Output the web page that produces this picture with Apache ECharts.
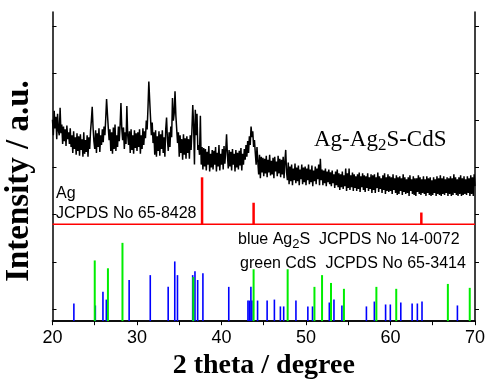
<!DOCTYPE html>
<html>
<head>
<meta charset="utf-8">
<script src="https://cdn.jsdelivr.net/npm/echarts@6/dist/echarts.min.js"></script>
<style>html,body{margin:0;padding:0;background:#fff}#c{width:488px;height:385px}</style>
</head>
<body>
<div id="c"></div>
<script>
// ---- DATA ----
const xMin = 20, xMax = 70;
const xTickLabels = [20, 30, 40, 50, 60, 70];
const yTickValues = [12, 60, 109, 157, 205, 253, 301];

// measured XRD pattern (intensity, a.u.), start 20°, step 0.1°
const xrdStart = 20, xrdStep = 0.1;
const xrdIntensity = [
  206,190,215,197,209,186,212,195,190,218,
  192,201,181,199,184,196,179,200,186,193,
  181,197,178,190,172,194,176,188,170,192,
  174,189,169,191,175,186,168,193,171,185,
  173,190,168,188,176,194,205,219,198,184,
  176,195,172,192,178,197,173,190,180,196,
  183,199,190,207,227,212,198,185,196,174,
  193,171,198,176,201,174,190,178,199,184,
  200,223,197,185,198,176,193,181,220,190,
  180,194,172,196,175,190,171,195,177,192,
  174,193,178,196,171,190,176,197,180,194,
  187,205,196,218,245,226,208,190,203,182,
  193,170,195,168,189,174,194,169,191,176,
  195,172,188,168,196,208,186,174,193,178,
  199,188,228,205,212,235,210,196,182,193,
  168,190,172,186,165,191,170,187,166,189,
  172,186,166,190,175,195,221,200,160,216,
  190,212,175,180,170,210,160,178,155,177,
  158,176,154,173,160,179,153,171,157,175,
  155,174,160,178,153,172,158,180,154,171,
  160,176,155,179,161,174,191,170,156,175,
  158,173,154,176,160,171,153,175,157,172,
  155,174,159,177,154,171,160,176,165,180,
  168,184,172,189,180,199,188,194,178,185,
  172,160,178,163,150,170,146,168,152,167,
  148,166,151,169,147,165,152,170,149,164,
  150,167,146,168,153,163,148,169,151,166,
  147,165,150,168,146,163,175,152,144,162,
  140,158,143,160,139,156,144,161,141,157,
  143,159,139,155,145,160,140,157,142,158,
  139,156,144,160,140,155,142,159,138,154,
  143,158,140,156,145,160,139,166,144,155,
  139,154,141,156,138,153,142,155,140,152,
  138,154,141,150,136,153,139,155,137,151,
  134,150,137,153,135,149,138,156,133,151,
  136,156,134,149,137,152,133,150,136,148,
  133,150,135,152,132,148,137,151,134,149,
  132,148,136,151,133,147,135,150,131,149,
  134,150,131,147,136,152,132,148,135,146,
  131,149,134,151,130,147,133,150,132,148,
  133,147,130,150,134,146,131,149,129,147,
  130,148,133,146,129,150,132,147,130,145,
  131,147,128,149,133,145,130,148,129,146,
  128,146,132,149,130,147,129,145,131,148,
  130,145,128,148,131,146,129,147,128,144,
  129,147,131,145,128,148,130,146,129,149,
  128,146,130,148,129,145,131,147,128,146,
  130,148,128,146,129,150,131,147,129,145,
  128,147,130,149,128,146,129,148,130,145,
  129,148,131,146,128,149,130,147,128,150,
  138
];

// Ag reference (JCPDS 65-8428), drawn with an offset
const agOffset = 99;
const agPos = [37.7, 43.8, 63.65];
const agHeight = [48, 22, 12];

// Ag2S reference (JCPDS 14-0072) - blue
const ag2sPos = [22.53,25.07,25.97,26.37,29.07,31.57,33.69,34.47,34.79,36.59,36.86,37.18,37.80,40.86,
  43.13,43.29,43.48,43.60,44.27,45.40,46.26,46.97,47.36,48.81,50.22,50.77,52.76,53.31,54.25,
  57.15,58.09,59.42,59.98,61.22,62.56,63.18,63.73,67.92];
const ag2sHeight = [18,16,30,22,42,47,35,61,47,47,51,42,49,35,
  21,21,35,21,21,21,22,15,15,21,15,15,19,22,16,
  15,20,17,17,19,18,18,20,16];

// CdS reference (JCPDS 65-3414) - green
const cdsPos = [25.0,26.56,28.28,36.66,43.8,47.83,51.0,51.9,52.96,54.49,58.33,60.68,66.79,69.38];
const cdsHeight = [62,54,80,45,53,53,35,47,39,33,35,33,38,34];

// ---- CHART ----
const chart = echarts.init(document.getElementById('c'), null, {renderer:'canvas'});
const xrdData = xrdIntensity.map((v, i) => [+(xrdStart + i * xrdStep).toFixed(2), v]);

function stickSeries(pos, h, base, color, width) {
  return {
    type: 'custom',
    silent: true,
    animation: false,
    data: pos.map((x, i) => [x, h[i]]),
    renderItem: function (params, api) {
      const p0 = api.coord([api.value(0), base]);
      const p1 = api.coord([api.value(0), base + api.value(1)]);
      return { type: 'line', shape: { x1: p0[0], y1: p0[1], x2: p1[0], y2: p1[1] },
               style: { stroke: color, lineWidth: width } };
    }
  };
}

const axisLineStyle = { color: '#000', width: 1.5 };
const sans = 'Liberation Sans, Arial, sans-serif';
const serif = 'Liberation Serif, Times New Roman, serif';

chart.setOption({
  animation: false,
  grid: { left: 52.5, right: 10, top: 12, bottom: 57 },
  xAxis: [
    { type: 'value', min: xMin, max: xMax, interval: 5, position: 'bottom',
      axisLine: { show: true, lineStyle: axisLineStyle },
      axisTick: { show: true, inside: false, length: 4, lineStyle: { color: '#000', width: 1 } },
      axisLabel: { color: '#000', fontSize: 18, fontFamily: sans, margin: 8,
        formatter: v => (xTickLabels.indexOf(v) >= 0 ? String(v) : '') },
      splitLine: { show: false },
      name: '2 theta / degree', nameLocation: 'middle', nameGap: 30,
      nameTextStyle: { color: '#000', fontSize: 28, fontWeight: 'bold', fontFamily: serif } },
    { type: 'value', min: xMin, max: xMax, interval: 5, position: 'top',
      axisLine: { show: true, lineStyle: axisLineStyle },
      axisTick: { show: true, inside: true, length: 4, lineStyle: { color: '#000', width: 1 } },
      axisLabel: { show: false }, splitLine: { show: false } }
  ],
  yAxis: [
    { type: 'value', min: 0, max: 316, position: 'left',
      axisLine: { show: true, lineStyle: axisLineStyle },
      axisTick: { show: true, inside: true, length: 4, customValues: yTickValues, lineStyle: { color: '#000', width: 1 } },
      axisLabel: { show: false }, splitLine: { show: false } },
    { type: 'value', min: 0, max: 316, position: 'right',
      axisLine: { show: true, lineStyle: axisLineStyle },
      axisTick: { show: true, inside: false, length: 4, customValues: yTickValues, lineStyle: { color: '#000', width: 1 } },
      axisLabel: { show: false }, splitLine: { show: false } }
  ],
  series: [
    { type: 'line', data: xrdData, showSymbol: false, symbol: 'none', sampling: null,
      lineStyle: { color: '#000', width: 1.5 }, silent: true },
    { type: 'line', data: [[xMin, agOffset], [xMax, agOffset]], showSymbol: false, symbol: 'none',
      lineStyle: { color: '#ff0000', width: 1.5 }, silent: true },
    stickSeries(agPos, agHeight, agOffset, '#ff0000', 2.5),
    stickSeries(ag2sPos, ag2sHeight, 0, '#0000ff', 1.6),
    stickSeries(cdsPos, cdsHeight, 0, '#00ee00', 2)
  ],
  graphic: [
    { type: 'text', x: 19, y: 181, rotation: Math.PI / 2,
      style: { text: 'Intensity / a.u.', font: 'bold 33px ' + serif, fill: '#000', align: 'center', verticalAlign: 'middle' } },
    { type: 'text', left: 56, top: 186, style: { text: 'Ag', font: '16px ' + sans, fill: '#000' } },
    { type: 'text', left: 56, top: 206, style: { text: 'JCPDS No 65-8428', font: '16px ' + sans, fill: '#000' } },
    { type: 'text', left: 314, top: 128, style: {
        text: '{a|Ag-Ag}{s|2}{a|S-CdS}',
        rich: { a: { fontSize: 23, fontFamily: serif, fill: '#000' },
                s: { fontSize: 17, fontFamily: serif, fill: '#000', padding: [12,0,0,0] } } } },
    { type: 'text', left: 238, top: 232, style: {
        text: '{a|blue Ag}{s|2}{a|S  JCPDS No 14-0072}',
        rich: { a: { fontSize: 16, fontFamily: sans, fill: '#000' },
                s: { fontSize: 13, fontFamily: sans, fill: '#000', padding: [8,0,0,0] } } } },
    { type: 'text', left: 240, top: 256, style: { text: 'green CdS  JCPDS No 65-3414', font: '16px ' + sans, fill: '#000' } }
  ]
});
</script>
</body>
</html>
